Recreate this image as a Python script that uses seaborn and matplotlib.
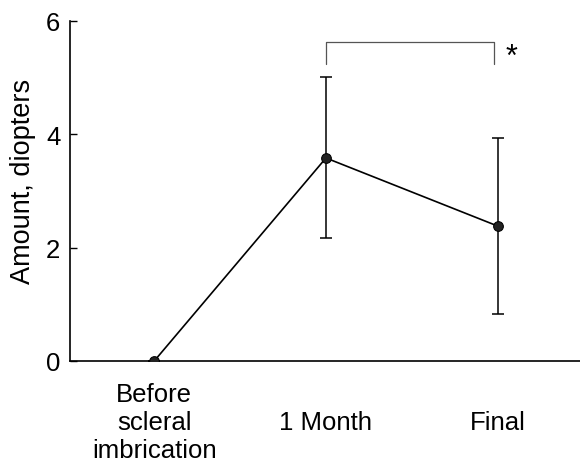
import matplotlib
matplotlib.use("Agg")
import matplotlib.pyplot as plt
import seaborn as sns
import pandas as pd

# Refraction change over follow-up
stages = ["Before\nscleral\nimbrication", "1 Month", "Final"]
mean_diopters = [0.0, 3.58, 2.38]
err_upper = [0.0, 1.42, 1.55]
err_lower = [0.0, 1.42, 1.55]
y_ticks = [0, 2, 4, 6]
sig_label = "*"

sns.set_theme(style="ticks")
plt.rcParams["font.family"] = ["Liberation Sans", "DejaVu Sans"]
plt.rcParams["text.color"] = "black"
plt.rcParams["axes.labelcolor"] = "black"
plt.rcParams["xtick.color"] = "black"
plt.rcParams["ytick.color"] = "black"

df = pd.DataFrame({"pos": range(len(stages)), "amount": mean_diopters})

fig = plt.figure(figsize=(5.8, 4.64), dpi=100)
ax = fig.add_axes([0.121, 0.22, 0.879, 0.733])

ax.errorbar(df["pos"], df["amount"], yerr=[err_lower, err_upper],
            fmt="none", ecolor="black", elinewidth=1.1, capsize=4.5,
            capthick=1.1, zorder=2)
sns.lineplot(data=df, x="pos", y="amount", ax=ax, color="black",
             linewidth=1.2, marker="o", markersize=7,
             markerfacecolor="#222222", markeredgecolor="black", zorder=3)

# significance bracket between 1 Month and Final
y_top, y_drop = 5.63, 5.24
ax.plot([1, 1, 1.98, 1.98], [y_drop, y_top, y_top, y_drop],
        color="#555555", linewidth=0.9, clip_on=False)
ax.text(2.08, 5.37, sig_label, fontsize=22, ha="center", va="center")

ax.set_xlim(-0.49, 2.48)
ax.set_ylim(0, 6)
ax.set_yticks(y_ticks)
ax.set_yticklabels([str(t) for t in y_ticks], fontsize=18.5)
ax.set_xticks(range(len(stages)))
ax.set_xticklabels(stages, fontsize=18.5, linespacing=1.2)
for lbl in ax.get_xticklabels():
    lbl.set_verticalalignment("center")
ax.tick_params(axis="x", length=0, pad=44)
ax.tick_params(axis="y", direction="in", length=5, width=1.0, pad=7)
ax.set_xlabel("")
ax.set_ylabel("Amount, diopters", fontsize=19.5)
ax.yaxis.set_label_coords(-0.068, 0.53)

sns.despine(ax=ax)
for s in ("left", "bottom"):
    ax.spines[s].set_linewidth(1.2)
    ax.spines[s].set_color("black")

fig.savefig("out.png", dpi=100)
